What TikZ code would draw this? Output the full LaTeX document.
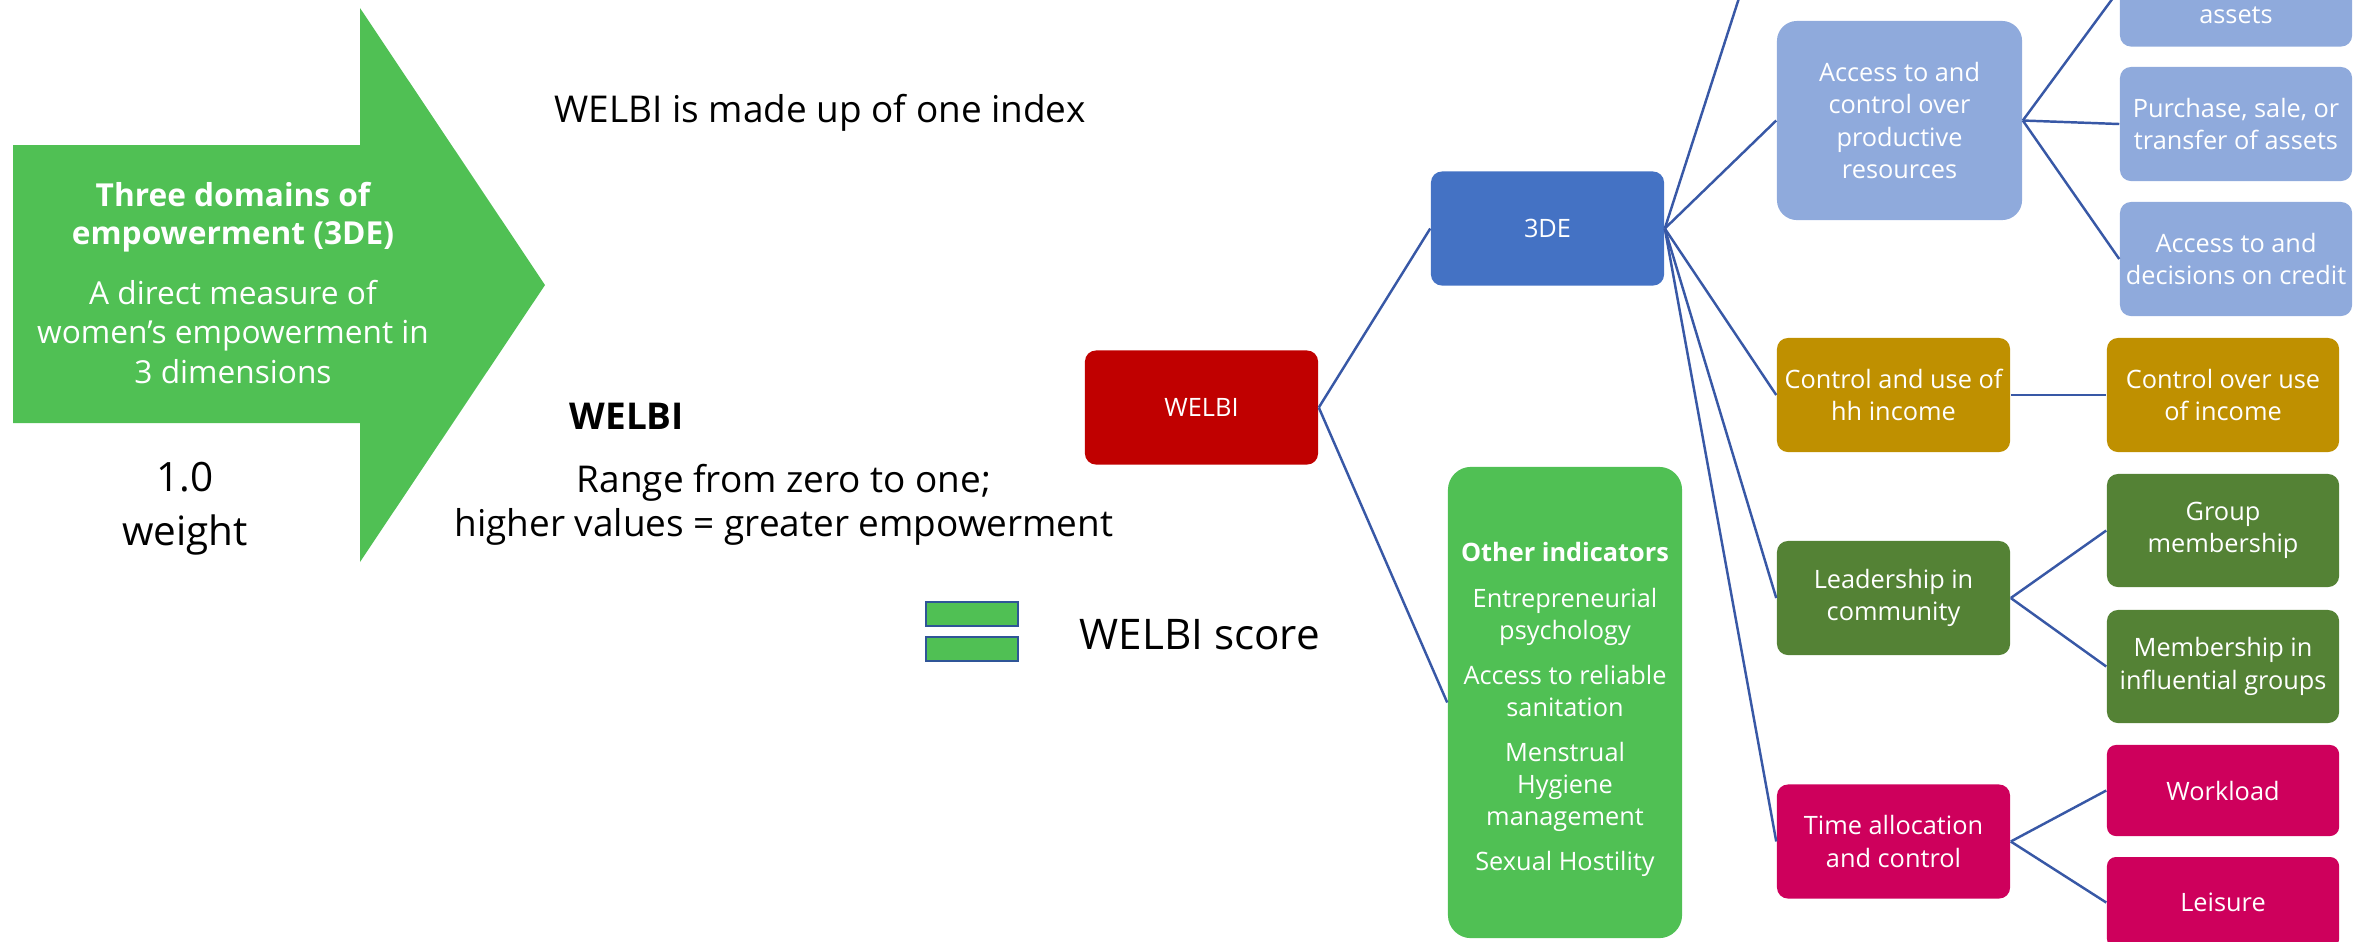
\documentclass[tikz,border=0pt]{standalone}
\usepackage{fontspec}
\setmainfont{Open Sans}

% palette
\definecolor{gr}{RGB}{80,192,84}
\definecolor{wred}{RGB}{192,0,0}
\definecolor{blu}{RGB}{68,114,196}
\definecolor{lblu}{RGB}{143,170,220}
\definecolor{gold}{RGB}{191,144,0}
\definecolor{dgreen}{RGB}{84,130,53}
\definecolor{mag}{RGB}{206,0,92}
\definecolor{linec}{RGB}{56,88,166}
\definecolor{eqline}{RGB}{47,85,151}

\begin{document}
\begin{tikzpicture}[x=0.01cm,y=-0.01cm,
  box/.style={rectangle, text=white, align=center, inner sep=0pt,
              font=\fontsize{7.2}{9.2}\selectfont},
  sbox/.style={box, minimum width=2.33cm, minimum height=1.14cm, rounded corners=0.11cm},
  wbox/.style={box, minimum width=2.32cm, minimum height=0.91cm, rounded corners=0.09cm},
  conn/.style={draw=linec, line width=0.7pt},
  txt/.style={inner sep=0pt, text=black},
  eqbar/.style={fill=gr, draw=eqline, line width=0.75pt},
]
\path[use as bounding box] (0,0) rectangle (2361,941);
\begin{scope}
\clip (0,0) rectangle (2361,941);

% big green arrow on the left
\fill[gr] (13,145) -- (360,145) -- (360,8) -- (545,285) -- (360,562)
          -- (360,423) -- (13,423) -- cycle;
\node[txt, text=white, align=center, font=\bfseries\fontsize{9}{10.9}\selectfont]
  (dtitle) at (233,217) {Three domains of\\empowerment (3DE)};
\node[txt, text=white, align=center, font=\fontsize{9}{11.2}\selectfont]
  (ddesc) at (233,332) {A direct measure of\\women’s empowerment in\\3 dimensions};
\node[txt, align=center, font=\fontsize{11.5}{15.4}\selectfont]
  (weight) at (185,509) {1.0\\weight};

% explanatory texts
\node[txt, anchor=west, font=\fontsize{10.5}{13}\selectfont]
  (idx) at (554,113) {WELBI is made up of one index};
\node[txt, anchor=west, font=\bfseries\fontsize{10.5}{13}\selectfont]
  (wtitle) at (569,416) {WELBI};
\node[txt, align=center, font=\fontsize{10.5}{12.5}\selectfont]
  (range) at (784,505) {Range from zero to one;\\higher values = greater empowerment};

% equals sign and score
\draw[eqbar] (926,602) rectangle (1018,626);
\draw[eqbar] (926,637) rectangle (1018,661);
\node[txt, anchor=west, font=\fontsize{12}{14}\selectfont]
  (score) at (1079,635) {WELBI score};

% hierarchy
\node[sbox, fill=wred] (welbi) at (1201.5,407.5) {WELBI};
\node[sbox, fill=blu] (tde) at (1547.5,228.5) {3DE};
\node[box, fill=gr, minimum width=2.34cm, minimum height=4.71cm, rounded corners=0.23cm]
  (other) at (1565,702.5) {};
\node[box, font=\fontsize{7.2}{9.1}\selectfont] (othertext) at (1565,709)
  {\textbf{Other indicators}\\[4pt]
   Entrepreneurial\\psychology\\[3.7pt]
   Access to reliable\\sanitation\\[3.7pt]
   Menstrual\\Hygiene\\management\\[3.7pt]
   Sexual Hostility};

\node[box, fill=lblu, minimum width=2.45cm, minimum height=1.99cm, rounded corners=0.2cm]
  (access) at (1899.5,120.5) {Access to and\\control over\\productive\\resources};
\node[sbox, fill=lblu, minimum width=2.32cm] (assets) at (2236,-10.5) {};
\node[box] (assetstext) at (2236,15) {assets};
\node[sbox, fill=lblu, minimum width=2.32cm] (purchase) at (2236,124)
  {Purchase, sale, or\\transfer of assets};
\node[sbox, fill=lblu, minimum width=2.32cm] (credit) at (2236,259)
  {Access to and\\decisions on credit};

\node[sbox, fill=gold] (ctrlhh) at (1893.5,395) {Control and use of\\hh income};
\node[sbox, fill=gold, minimum width=2.32cm] (ctrlinc) at (2223,395) {Control over use\\of income};

\node[sbox, fill=dgreen] (lead) at (1893.5,598) {Leadership in\\community};
\node[sbox, fill=dgreen, minimum width=2.32cm, minimum height=1.13cm] (group) at (2223,530.5)
  {Group\\membership};
\node[sbox, fill=dgreen, minimum width=2.32cm, minimum height=1.13cm] (member) at (2223,666.5)
  {Membership in\\influential groups};

\node[sbox, fill=mag] (time) at (1893.5,841.5) {Time allocation\\and control};
\node[wbox, fill=mag] (work) at (2223,790.5) {Workload};
\node[wbox, fill=mag] (leisure) at (2223,902.5) {Leisure};

\coordinate (upper) at (1777,-120);

% connectors
\draw[conn] (welbi.east) -- (tde.west);
\draw[conn] (welbi.east) -- (other.west);
\draw[conn] (tde.east) -- (upper);
\draw[conn] (tde.east) -- (access.west);
\draw[conn] (tde.east) -- (ctrlhh.west);
\draw[conn] (tde.east) -- (lead.west);
\draw[conn] (tde.east) -- (time.west);
\draw[conn] (access.east) -- (assets.west);
\draw[conn] (access.east) -- (purchase.west);
\draw[conn] (access.east) -- (credit.west);
\draw[conn] (ctrlhh.east) -- (ctrlinc.west);
\draw[conn] (lead.east) -- (group.west);
\draw[conn] (lead.east) -- (member.west);
\draw[conn] (time.east) -- (work.west);
\draw[conn] (time.east) -- (leisure.west);
\end{scope}
\end{tikzpicture}
\end{document}
